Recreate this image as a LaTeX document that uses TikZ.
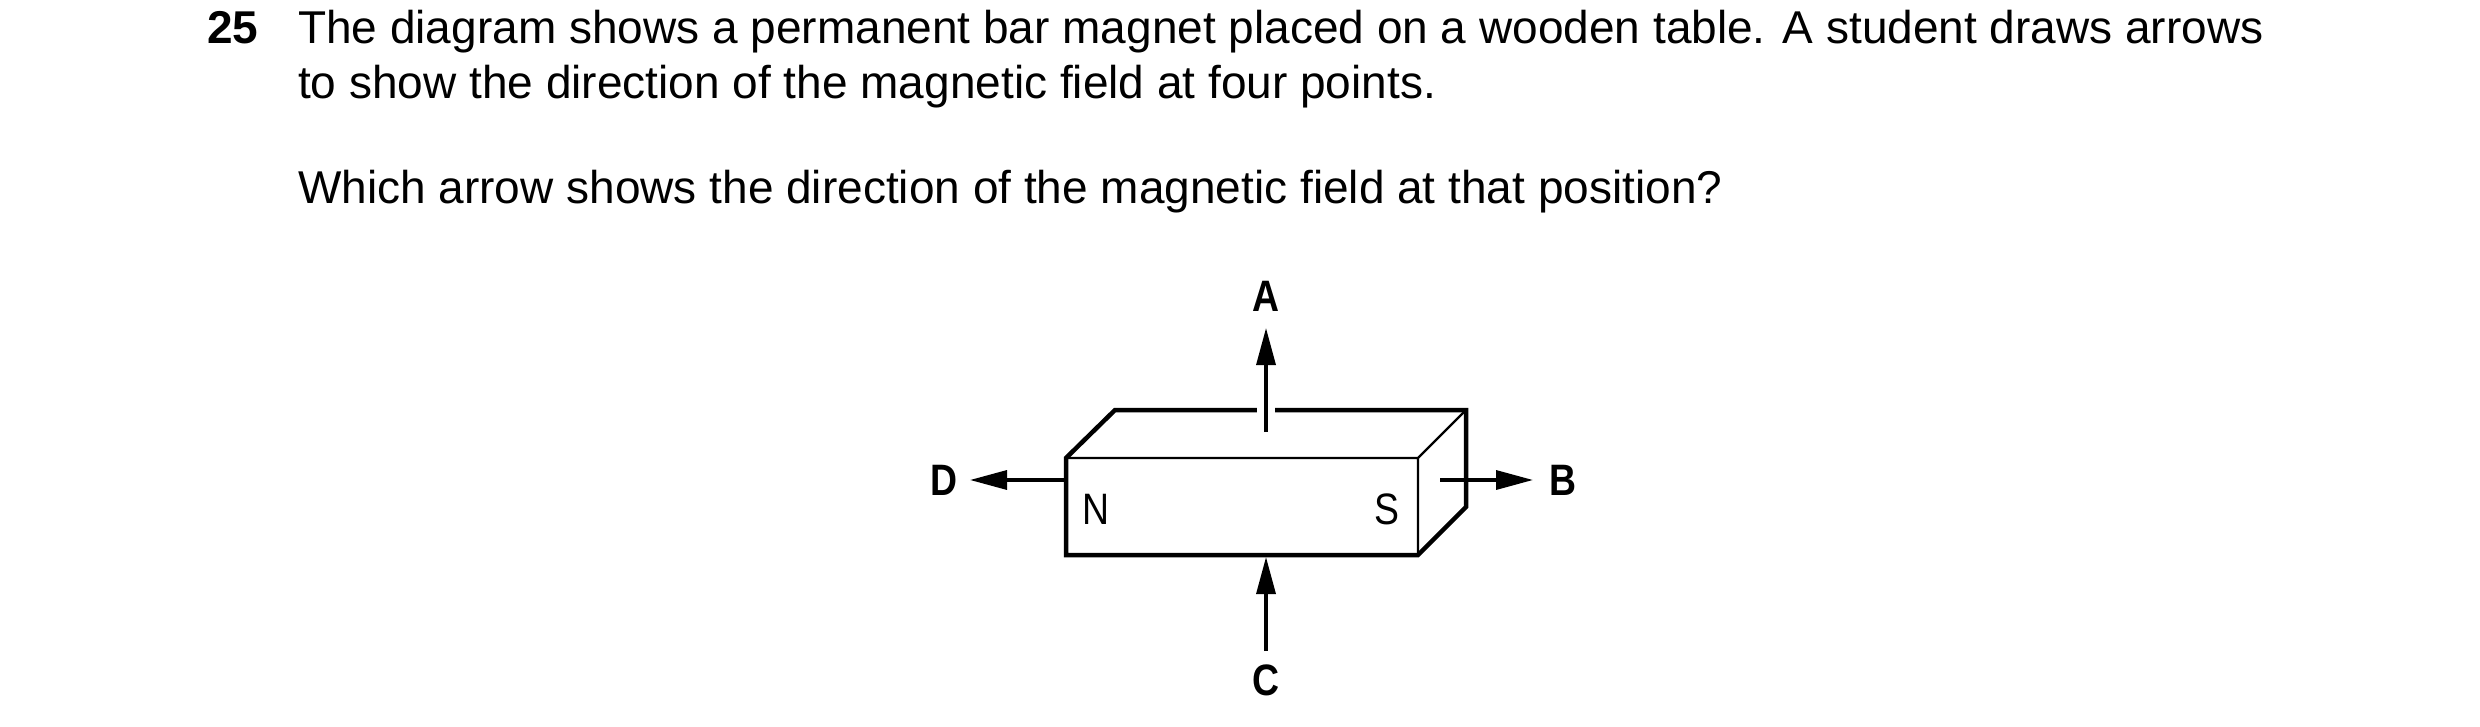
\documentclass[tikz,border=0pt]{standalone}
\usepackage{fontspec}
\setmainfont{Liberation Sans}
\usetikzlibrary{arrows.meta}
\begin{document}
\begin{tikzpicture}[x=1pt,y=-1pt,
  thick/.style={line width=4.5pt,line join=miter},
  thin/.style={line width=2.4pt},
  arr/.style={line width=3.4pt,-{Triangle[length=37pt,width=19pt]}},
  lab/.style={font=\fontsize{44}{44}\selectfont\bfseries,inner sep=0pt},
  pole/.style={font=\fontsize{44}{44}\selectfont,inner sep=0pt},
  txt/.style={font=\fontsize{46}{46}\selectfont,anchor=base west,inner sep=0pt}]
\useasboundingbox (0,0) rectangle (2480,727);
\node[txt,font=\fontsize{46}{46}\selectfont\bfseries] (num) at (207,44) {25};
\node[txt] (l1) at (298,44) {The diagram shows a permanent bar magnet placed on a wooden table. A student draws arrows};
\node[txt] (l2) at (298,99) {to show the direction of the magnetic field at four points.};
\node[txt] (l3) at (298,204) {Which arrow shows the direction of the magnetic field at that position?};
% magnet
\coordinate (f1) at (1066,458); \coordinate (f2) at (1418,458);
\coordinate (f3) at (1418,555); \coordinate (f4) at (1066,555);
\coordinate (b1) at (1115,410); \coordinate (b2) at (1466,410);
\coordinate (b3) at (1466,507);
\draw[thick] (f1) -- (b1) -- (b2) -- (b3) -- (f3) -- (f4) -- cycle;
\draw[thin] (f1) -- (f2) -- (f3) (f2) -- (b2);
\node[pole] (N) at (1096,509) {\scalebox{0.85}[1]{N}};
\node[pole] (S) at (1387,509) {\scalebox{0.85}[1]{S}};
% arrows
\fill[white] (1257,402) rectangle (1275,418);
\coordinate (at) at (1266,432); \coordinate (ah) at (1266,328);
\draw[arr] (at) -- (ah);
\coordinate (ct) at (1266,651); \coordinate (ch) at (1266,557);
\draw[arr] (ct) -- (ch);
\coordinate (dt) at (1066,480); \coordinate (dh) at (970,480);
\draw[arr] (dt) -- (dh);
\coordinate (bt) at (1440,480); \coordinate (bh) at (1533,480);
\draw[arr] (bt) -- (bh);
\node[lab] (A) at (1266,296) {\scalebox{0.85}[1]{A}};
\node[lab] (C) at (1266,680) {\scalebox{0.85}[1]{C}};
\node[lab] (D) at (944,480) {\scalebox{0.85}[1]{D}};
\node[lab] (B) at (1563,480) {\scalebox{0.85}[1]{B}};
\end{tikzpicture}
\end{document}
